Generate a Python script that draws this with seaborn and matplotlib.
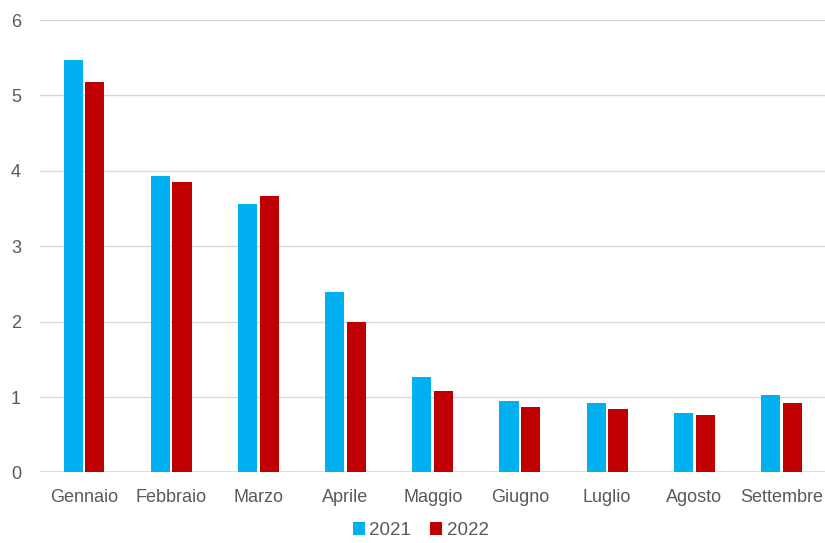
import pandas as pd
import matplotlib.pyplot as plt
import seaborn as sns

# Monthly values
mesi = ['Gennaio', 'Febbraio', 'Marzo', 'Aprile', 'Maggio', 'Giugno',
        'Luglio', 'Agosto', 'Settembre']
val_2021 = [5.47, 3.93, 3.56, 2.39, 1.26, 0.95, 0.92, 0.79, 1.03]
val_2022 = [5.18, 3.85, 3.67, 1.99, 1.08, 0.87, 0.84, 0.76, 0.92]
anni = ['2021', '2022']
colori = ['#00B0F0', '#C00000']

df = pd.DataFrame({
    'mese': mesi * 2,
    'valore': val_2021 + val_2022,
    'anno': [anni[0]] * len(mesi) + [anni[1]] * len(mesi),
})

sns.set_style('white')
plt.rcParams['font.family'] = ['Liberation Sans', 'DejaVu Sans']
grey = '#595959'

fig = plt.figure(figsize=(8.25, 5.43), dpi=100)
ax = fig.add_axes([0.049, 0.13, 0.951, 0.833])

sns.barplot(data=df, x='mese', y='valore', hue='anno', palette=colori,
            saturation=1, width=0.5, gap=0.12, linewidth=0, ax=ax,
            legend=True)

ax.set_ylim(0, 6)
ax.set_xlim(-0.5, len(mesi) - 0.5)
ax.set_yticks(range(0, 7))
ax.yaxis.grid(True, color='#D9D9D9', linewidth=1)
ax.set_axisbelow(True)
for s in ax.spines.values():
    s.set_visible(False)
ax.axhline(0, color='#D9D9D9', linewidth=1.2, zorder=0)
ax.set_xlabel('')
ax.set_ylabel('')
ax.tick_params(axis='both', length=0, labelsize=13, colors=grey)
ax.tick_params(axis='x', pad=12)
ax.tick_params(axis='y', pad=14)

handles, labels = ax.get_legend_handles_labels()
ax.get_legend().remove()
fig.legend(handles, labels, loc='lower center', ncol=2, frameon=False,
           bbox_to_anchor=(0.51, -0.024), handlelength=0.65, handleheight=0.65,
           handletextpad=0.25, columnspacing=1.0, fontsize=13.5,
           labelcolor=grey)

fig.savefig('out.png', dpi=100)
